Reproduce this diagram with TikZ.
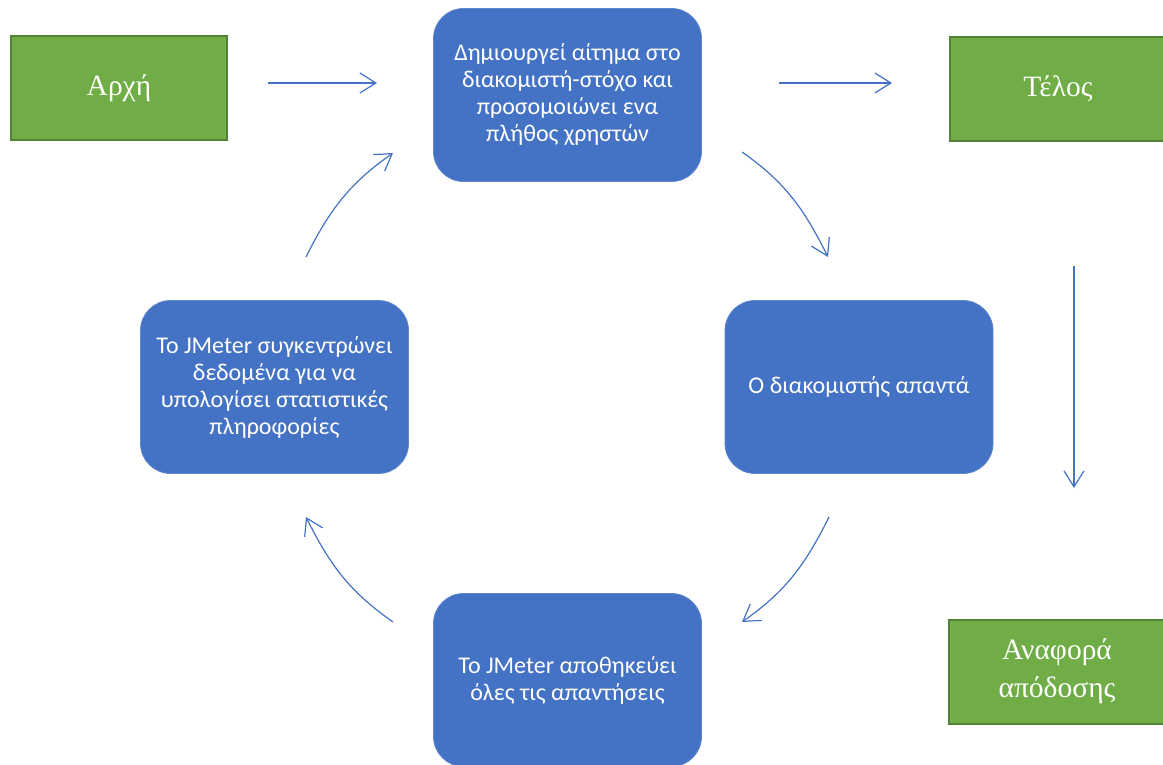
\documentclass[tikz,border=0pt]{standalone}
\usepackage{fontspec}
\setmainfont{Carlito}
\newfontfamily\serifgr{Liberation Serif}
\usetikzlibrary{arrows.meta}
\definecolor{boxblue}{HTML}{4472C4}
\definecolor{greenfill}{HTML}{70AD47}
\definecolor{greenline}{HTML}{548235}
\definecolor{arrowblue}{HTML}{4472C4}
\begin{document}
\begin{tikzpicture}[x=1pt,y=1pt,
  greenbox/.style={draw=greenline, line width=2pt, fill=greenfill, minimum width=216pt, minimum height=104pt, inner sep=0pt, text=white, font=\serifgr\fontsize{29.5}{38}\selectfont, align=center},
  stepbox/.style={draw=boxblue!85!white, line width=0.8pt, fill=boxblue, rounded corners=30pt, minimum width=268pt, minimum height=173pt, inner sep=0pt, text=white, font=\fontsize{24}{27}\selectfont, align=center},
  flow/.style={draw=arrowblue, line width=1.2pt, -{Straight Barb[length=16pt,width=20pt,line width=1.2pt]}}]
\useasboundingbox (0,0) rectangle (1163,-765);
\clip (0,0) rectangle (1163,-765);
\fill[white] (0,0) rectangle (1163,-765);
% nodes
\node[greenbox] (start) at (119,-88) {\raisebox{3pt}{Αρχή}};
\node[greenbox] (end) at (1058,-89) {\raisebox{3pt}{Τέλος}};
\node[greenbox] (report) at (1057,-671.5) {Αναφορά\\απόδοσης};
\node[stepbox] (req) at (567.5,-95) {Δημιουργεί αίτημα στο\\διακομιστή-στόχο και\\προσομοιώνει ενα\\πλήθος χρηστών};
\node[stepbox] (resp) at (859,-387) {Ο διακομιστής απαντά};
\node[stepbox] (store) at (567.5,-680) {Το JMeter αποθηκεύει\\όλες τις απαντήσεις};
\node[stepbox] (collect) at (274.5,-387) {Το JMeter συγκεντρώνει\\δεδομένα για να\\υπολογίσει στατιστικές\\πληροφορίες};
% connector ends
\coordinate (a1) at (268,-83);
\coordinate (a2) at (377,-83);
\coordinate (b1) at (779,-83);
\coordinate (b2) at (892,-83);
\coordinate (c1) at (742,-152);
\coordinate (c2) at (828,-257);
\coordinate (d1) at (829,-517);
\coordinate (d2) at (742,-622);
\coordinate (e1) at (393,-622);
\coordinate (e2) at (306,-517);
\coordinate (f1) at (306,-257);
\coordinate (f2) at (393,-153);
\coordinate (g1) at (1074,-266);
\coordinate (g2) at (1074,-488);
% connectors
\draw[flow] (a1) -- (a2);
\draw[flow] (b1) -- (b2);
\draw[flow] (c1) to[out=-35,in=116.5] (c2);
\draw[flow] (d1) to[out=-116.5,in=35] (d2);
\draw[flow] (e1) to[out=145,in=-63.5] (e2);
\draw[flow] (f1) to[out=63.5,in=215] (f2);
\draw[flow] (g1) -- (g2);
\end{tikzpicture}
\end{document}
